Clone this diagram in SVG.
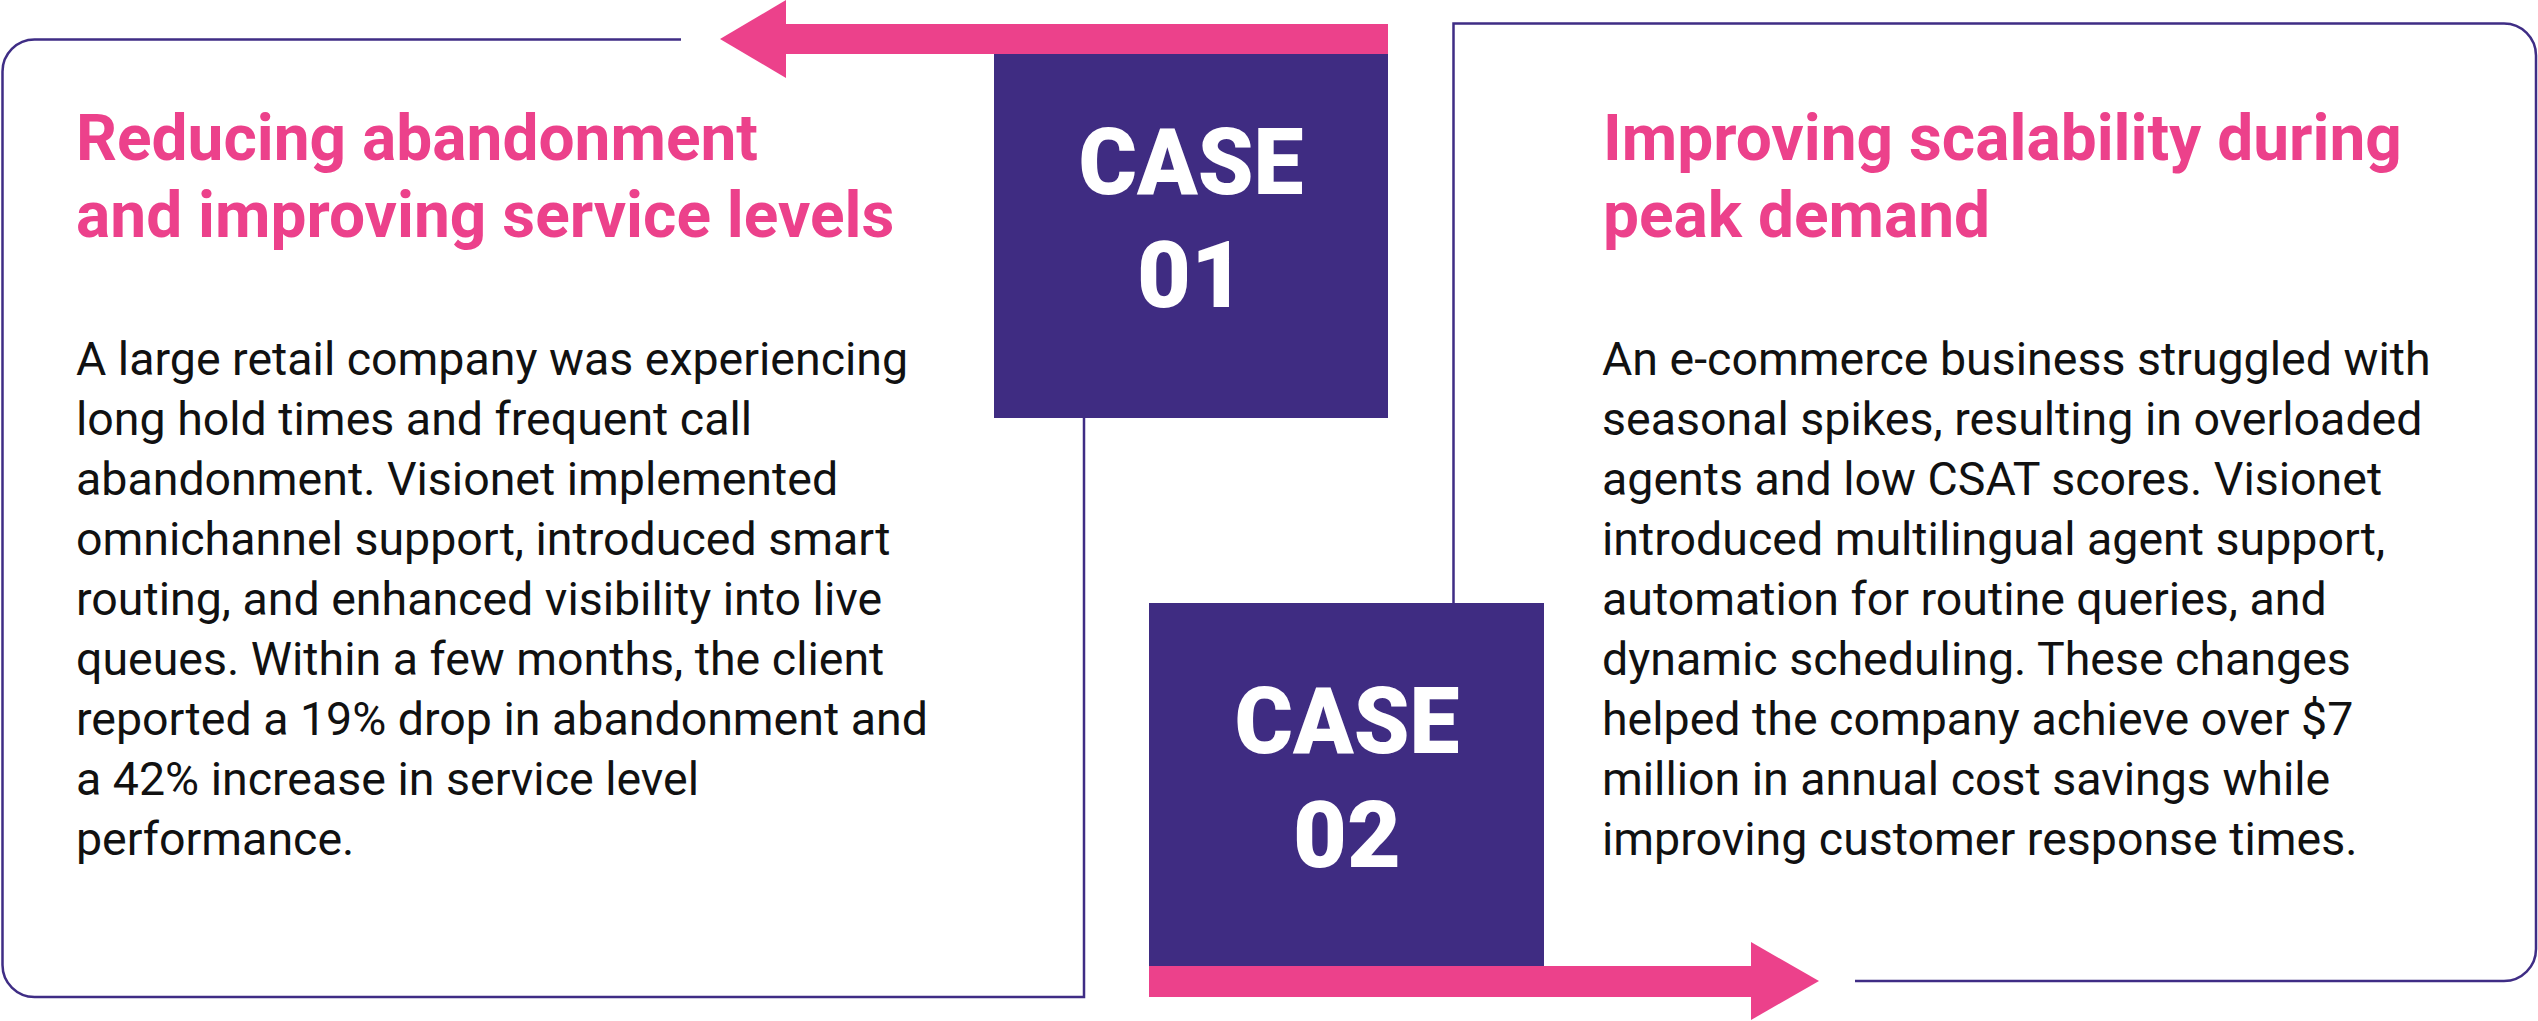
<svg xmlns="http://www.w3.org/2000/svg" width="2538" height="1021" viewBox="0 0 2538 1021">
<style>
.frame{fill:none;stroke:#3f2d85;stroke-width:2.5}
.pink{fill:#ec418b}
.purple{fill:#3f2c82}
.title{font-family:Roboto,"Liberation Sans",sans-serif;font-weight:700;font-size:64px;fill:#ec418b}
.body{font-family:Roboto,"Liberation Sans",sans-serif;font-size:46.5px;fill:#111}
.case{font-family:Roboto,"Liberation Sans",sans-serif;font-weight:900;font-size:93px;fill:#fff;text-anchor:middle}
</style>
<rect width="2538" height="1021" fill="#fff"/>
<g id="connectors">
<path class="frame" d="M681 39.5H34.5A32 32 0 0 0 2.5 71.5V965A32 32 0 0 0 34.5 997H1084V418"/>
<path class="frame" d="M1453.5 603V23.5H2504A32 32 0 0 1 2536 55.5V949A32 32 0 0 1 2504 981H1855"/>
<rect class="pink" x="785" y="24" width="603" height="30"/>
<polygon class="pink" points="720,39 786,0 786,78"/>
<rect class="pink" x="1149" y="966" width="603" height="31"/>
<polygon class="pink" points="1751,942 1819,981 1751,1020"/>
</g>
<g id="case01">
<rect class="purple" x="994" y="54" width="394" height="364"/>
<text class="case" x="1191" y="194" textLength="225" lengthAdjust="spacingAndGlyphs">CASE</text>
<text class="case" x="1191" y="307">01</text>
</g>
<g id="case02">
<rect class="purple" x="1149" y="603" width="395" height="363"/>
<text class="case" x="1347" y="753" textLength="225" lengthAdjust="spacingAndGlyphs">CASE</text>
<text class="case" x="1347" y="867">02</text>
</g>
<g id="card01">
<text class="title" x="76" y="160">Reducing abandonment</text>
<text class="title" x="76" y="237">and improving service levels</text>
<text class="body" x="76" y="375">A large retail company was experiencing</text>
<text class="body" x="76" y="435">long hold times and frequent call</text>
<text class="body" x="76" y="495">abandonment. Visionet implemented</text>
<text class="body" x="76" y="555">omnichannel support, introduced smart</text>
<text class="body" x="76" y="615">routing, and enhanced visibility into live</text>
<text class="body" x="76" y="675">queues. Within a few months, the client</text>
<text class="body" x="76" y="735">reported a 19% drop in abandonment and</text>
<text class="body" x="76" y="795">a 42% increase in service level</text>
<text class="body" x="76" y="855">performance.</text>
</g>
<g id="card02">
<text class="title" x="1603" y="160">Improving scalability during</text>
<text class="title" x="1603" y="237">peak demand</text>
<text class="body" x="1602" y="375">An e-commerce business struggled with</text>
<text class="body" x="1602" y="435">seasonal spikes, resulting in overloaded</text>
<text class="body" x="1602" y="495">agents and low CSAT scores. Visionet</text>
<text class="body" x="1602" y="555">introduced multilingual agent support,</text>
<text class="body" x="1602" y="615">automation for routine queries, and</text>
<text class="body" x="1602" y="675">dynamic scheduling. These changes</text>
<text class="body" x="1602" y="735">helped the company achieve over $7</text>
<text class="body" x="1602" y="795">million in annual cost savings while</text>
<text class="body" x="1602" y="855">improving customer response times.</text>
</g>
</svg>
